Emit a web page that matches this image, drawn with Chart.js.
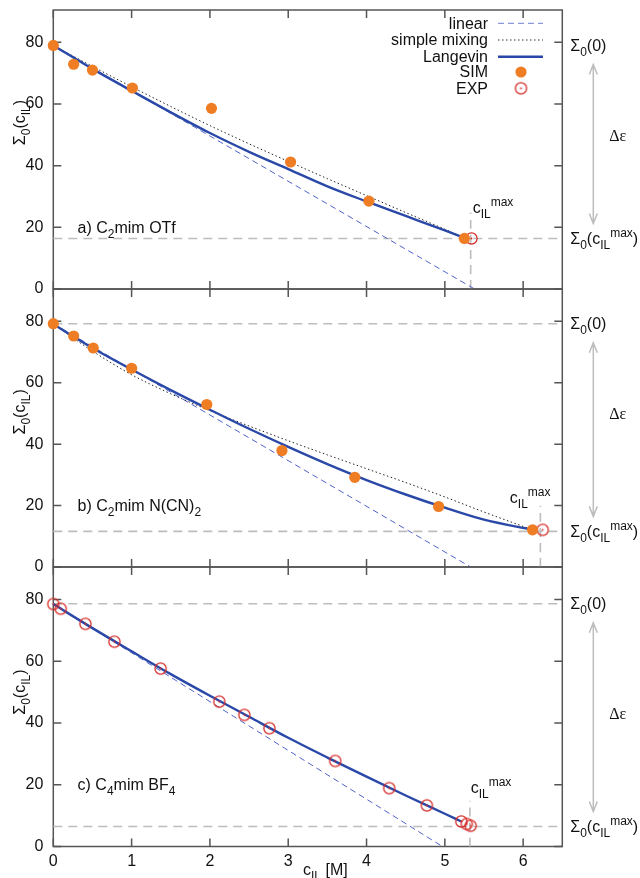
<!DOCTYPE html>
<html>
<head>
<meta charset="utf-8">
<script src="https://cdn.jsdelivr.net/npm/chart.js@4.4.1/dist/chart.umd.min.js"></script>
<style>
  html, body { margin: 0; padding: 0; background: #fff; }
  #wrap { position: relative; width: 640px; height: 878px; }
  #wrap canvas { position: absolute; left: 0; top: 0; }
</style>
</head>
<body>
<div id="wrap">
  <canvas id="panelA" width="640" height="878"></canvas>
  <canvas id="panelB" width="640" height="878"></canvas>
  <canvas id="panelC" width="640" height="878"></canvas>
</div>
<script>
// values
const xTicks = [0, 1, 2, 3, 4, 5, 6];
const yTicks = [0, 20, 40, 60, 80];

// a) C2mim OTf
const simAx = [0, 0.26, 0.5, 1.01, 2.02, 3.03, 4.03, 5.25];
const simAy = [79.0, 72.9, 71.0, 65.2, 58.6, 41.2, 28.5, 16.4];
const expAx = [5.34];
const expAy = [16.4];
const curveAx = [0, 0.5, 1, 1.5, 2, 2.5, 3, 3.5, 4, 4.5, 5, 5.25];
const langAy = [79, 71.4, 64.3, 57.3, 50.6, 44.5, 38.9, 33.3, 28.4, 23.7, 19.0, 16.6];
const mixAy = [79, 72.2, 65.6, 59.2, 53.0, 47.1, 41.4, 35.8, 30.3, 24.8, 19.4, 16.6];
const linAx = [0, 5.38];
const linAy = [79, 0];
const eps0A = 79, epsMaxA = 16.4, cMaxA = 5.33;

// b) C2mim N(CN)2
const simBx = [0, 0.26, 0.51, 1.0, 1.96, 2.92, 3.85, 4.92, 6.12];
const simBy = [79.2, 75.2, 71.3, 64.7, 52.9, 37.9, 29.2, 19.7, 12.1];
const expBx = [6.25];
const expBy = [12.1];
const curveBx = [0, 0.5, 1, 1.5, 2, 2.5, 3, 3.5, 4, 4.5, 5, 5.5, 6.12];
const langBy = [79, 71.3, 64.3, 57.6, 51.2, 45.0, 39.1, 33.5, 28.3, 23.6, 19.3, 15.4, 12.1];
const mixBy = [79, 70.3, 62.6, 56.4, 50.9, 45.9, 41.1, 36.5, 32.0, 27.5, 22.8, 17.9, 12.1];
const linBx = [0, 5.33];
const linBy = [79.2, 0];
const eps0B = 79.2, epsMaxB = 11.6, cMaxB = 6.22;

// c) C4mim BF4
const expCx = [0, 0.095, 0.41, 0.78, 1.37, 2.12, 2.44, 2.76, 3.60, 4.29, 4.77, 5.21, 5.28, 5.33];
const expCy = [78.5, 77.0, 72.1, 66.3, 57.6, 46.9, 42.6, 38.3, 27.7, 18.9, 13.3, 8.1, 7.3, 6.7];
const curveCx = [0, 0.5, 1, 1.5, 2, 2.5, 3, 3.5, 4, 4.5, 5, 5.21];
const langCy = [78.5, 70.7, 63.2, 55.8, 48.8, 42.0, 35.2, 28.8, 22.6, 16.5, 10.6, 8.1];
const linCx = [0, 4.97];
const linCy = [78.5, 0];
const eps0C = 78.6, epsMaxC = 6.5, cMaxC = 5.32;

const FONT = '"Liberation Sans", Helvetica, Arial, sans-serif';
const ORANGE = '#ee7d24';
const RED = '#d52c28';
const BLUE = '#2a48a8';
const LINBLUE = '#5062c8';
const GREY = '#bdbdbd';

function pts(xs, ys) {
  return xs.map((x, i) => ({ x: x, y: ys[i] }));
}

// open circle with a dot in the middle, used for EXP
const expMarker = document.createElement('canvas');
expMarker.width = 15;
expMarker.height = 15;
(function () {
  const c = expMarker.getContext('2d');
  c.strokeStyle = RED;
  c.lineWidth = 1.3;
  c.beginPath();
  c.arc(7.5, 7.5, 5.6, 0, Math.PI * 2);
  c.stroke();
  c.fillStyle = RED;
  c.beginPath();
  c.arc(7.5, 7.5, 0.9, 0, Math.PI * 2);
  c.fill();
})();

// text with sub/superscripts: parts = [[text, ''|'sub'|'sup'], ...]
function richText(ctx, parts, x, y, align, size) {
  size = size || 16;
  const small = Math.round(size * 0.75);
  let w = 0;
  parts.forEach(([t, k]) => {
    ctx.font = (k ? small : size) + 'px ' + FONT;
    w += ctx.measureText(t).width;
  });
  let cx = align === 'right' ? x - w : align === 'center' ? x - w / 2 : x;
  ctx.textAlign = 'left';
  ctx.textBaseline = 'alphabetic';
  parts.forEach(([t, k]) => {
    ctx.font = (k ? small : size) + 'px ' + FONT;
    const dy = k === 'sub' ? 5 : k === 'sup' ? -7 : 0;
    ctx.fillText(t, cx, y + dy);
    cx += ctx.measureText(t).width;
  });
}

function lineSet(data, color, width, dash) {
  return {
    data: data, showLine: true, borderColor: color, borderWidth: width,
    borderDash: dash || [], pointRadius: 0, pointHoverRadius: 0,
    cubicInterpolationMode: 'monotone', fill: false, clip: false
  };
}

function makePanel(id, p) {
  const datasets = [];
  if (p.sim) {
    datasets.push({ data: p.sim, pointRadius: 5.6, pointBackgroundColor: ORANGE,
      pointBorderWidth: 0, showLine: false, clip: false });
  }
  datasets.push({ data: p.exp, pointStyle: expMarker, pointRadius: 7,
    showLine: false, clip: false });
  datasets.push(lineSet(p.lang, BLUE, 2.4));
  if (p.mix) datasets.push(lineSet(p.mix, '#222', 1, [1.5, 2.5]));
  datasets.push(lineSet(p.lin, LINBLUE, 1, [6, 4]));
  // guide lines
  datasets.push(lineSet([{ x: 0, y: p.epsMax }, { x: 6.5, y: p.epsMax }], GREY, 1.6, [9, 6]));
  datasets.push(lineSet([{ x: p.cMax, y: 0 }, { x: p.cMax, y: p.epsMax + 8.3 }], GREY, 1.6, [9, 6]));
  if (p.showTopGuide) {
    datasets.push(lineSet([{ x: 0, y: p.eps0 }, { x: 6.5, y: p.eps0 }], GREY, 1.6, [9, 6]));
  }

  const decor = {
    id: 'decor' + id,
    beforeDatasetsDraw(chart) {
      const ctx = chart.ctx, a = chart.chartArea;
      const xs = chart.scales.x, ys = chart.scales.y;
      ctx.save();
      ctx.strokeStyle = '#555';
      ctx.lineWidth = 1.5;
      ctx.strokeRect(a.left, a.top, a.right - a.left, a.bottom - a.top);
      ctx.beginPath();
      xTicks.forEach(v => {
        const px = xs.getPixelForValue(v);
        ctx.moveTo(px, a.bottom); ctx.lineTo(px, a.bottom - 8);
        ctx.moveTo(px, a.top); ctx.lineTo(px, a.top + 8);
      });
      yTicks.forEach(v => {
        const py = ys.getPixelForValue(v);
        ctx.moveTo(a.left, py); ctx.lineTo(a.left + 8, py);
        ctx.moveTo(a.right, py); ctx.lineTo(a.right - 8, py);
      });
      ctx.stroke();
      ctx.restore();
    },
    afterDraw(chart) {
      const ctx = chart.ctx, a = chart.chartArea;
      const xs = chart.scales.x, ys = chart.scales.y;
      ctx.save();
      ctx.fillStyle = '#111';

      // y axis title
      ctx.save();
      ctx.translate(25, ys.getPixelForValue(p.titleAt));
      ctx.rotate(-Math.PI / 2);
      richText(ctx, [['\u03A3', ''], ['0', 'sub'], ['(c', ''], ['IL', 'sub'], [')', '']], 0, 0, 'center');
      ctx.restore();

      // panel name
      const ly = ys.getPixelForValue(20) + 5.5;
      richText(ctx, p.name, xs.getPixelForValue(0.31), ly, 'left');

      // right hand labels
      const y0 = ys.getPixelForValue(p.eps0);
      const ym = ys.getPixelForValue(p.epsMax);
      richText(ctx, [['\u03A3', ''], ['0', 'sub'], ['(0)', '']], a.right + 8, y0 + 5.5, 'left');
      richText(ctx, [['\u03A3', ''], ['0', 'sub'], ['(c', ''], ['IL', 'sub'], ['max', 'sup'], [')', '']],
        a.right + 8, ym + 5.5, 'left');

      // arrow for delta epsilon
      const ax = a.right + 31;
      const t = y0 + 19, b = ym - 15;
      ctx.strokeStyle = GREY;
      ctx.lineWidth = 1.5;
      ctx.beginPath();
      ctx.moveTo(ax, t); ctx.lineTo(ax, b);
      ctx.moveTo(ax - 4, t + 10); ctx.lineTo(ax, t); ctx.lineTo(ax + 4, t + 10);
      ctx.moveTo(ax - 4, b - 10); ctx.lineTo(ax, b); ctx.lineTo(ax + 4, b - 10);
      ctx.stroke();
      ctx.font = '16px "Liberation Serif", "DejaVu Serif", serif';
      ctx.textAlign = 'left';
      ctx.textBaseline = 'middle';
      ctx.fillText('\u0394\u03B5', a.right + 47, ys.getPixelForValue(p.deltaAt));

      // c_IL^max label
      richText(ctx, [['c', ''], ['IL', 'sub'], ['max', 'sup']],
        xs.getPixelForValue(p.cLabel[0]), ys.getPixelForValue(p.cLabel[1]), 'left');

      if (p.legend) {
        const rows = [23.3, 40, 56.7, 72, 88.3];
        const names = ['linear', 'simple mixing', 'Langevin', 'SIM', 'EXP'];
        ctx.font = '16px ' + FONT;
        ctx.textAlign = 'right';
        ctx.textBaseline = 'middle';
        ctx.fillStyle = '#111';
        names.forEach((n, i) => ctx.fillText(n, 488, rows[i] + 1));
        const seg = (y, color, w, dash) => {
          ctx.strokeStyle = color; ctx.lineWidth = w; ctx.setLineDash(dash);
          ctx.beginPath(); ctx.moveTo(498, y); ctx.lineTo(543, y); ctx.stroke();
        };
        seg(rows[0], '#8c98dc', 1.2, [6, 4]);
        seg(rows[1], '#333', 1, [1.5, 2.5]);
        seg(rows[2], BLUE, 2.4, []);
        ctx.setLineDash([]);
        ctx.fillStyle = ORANGE;
        ctx.beginPath(); ctx.arc(521, rows[3], 5.6, 0, Math.PI * 2); ctx.fill();
        ctx.drawImage(expMarker, 521 - 7.5, rows[4] - 7.5);
      }

      if (p.showX) {
        ctx.fillStyle = '#111';
        richText(ctx, [['c', ''], ['IL', 'sub'], [' [M]', '']], 303, 875, 'left');
      }
      ctx.restore();
    }
  };

  return new Chart(document.getElementById(id), {
    type: 'scatter',
    data: { datasets: datasets },
    options: {
      responsive: false,
      animation: false,
      events: [],
      layout: {
        padding: { left: 0, right: 77.7, top: p.top, bottom: p.showX ? 0 : 878 - p.bottom }
      },
      plugins: { legend: { display: false }, tooltip: { enabled: false } },
      scales: {
        x: {
          type: 'linear', min: 0, max: 6.5, display: p.showX,
          grid: { display: false, drawTicks: false }, border: { display: false },
          afterBuildTicks: s => { s.ticks = xTicks.map(v => ({ value: v })); },
          ticks: { font: { family: FONT, size: 16 }, color: '#111', padding: 5 },
          afterFit: s => {
            s.height = p.showX ? 878 - p.bottom : 0;
            s.paddingLeft = 0; s.paddingRight = 0;
          }
        },
        y: {
          type: 'linear', min: 0, max: 90.5,
          grid: { display: false, drawTicks: false }, border: { display: false },
          afterBuildTicks: s => { s.ticks = yTicks.map(v => ({ value: v })); },
          ticks: { font: { family: FONT, size: 16 }, color: '#111', padding: 10 },
          afterFit: s => {
            s.width = 53.3;
            s.paddingTop = 0; s.paddingBottom = 0;
          }
        }
      }
    },
    plugins: [decor]
  });
}

makePanel('panelA', {
  top: 10, bottom: 289, showX: false, legend: true, showTopGuide: false,
  sim: pts(simAx, simAy), exp: pts(expAx, expAy),
  lang: pts(curveAx, langAy), mix: pts(curveAx, mixAy), lin: pts(linAx, linAy),
  eps0: eps0A, epsMax: epsMaxA, cMax: cMaxA,
  titleAt: 54, deltaAt: 49.4, cLabel: [5.355, 24.7],
  name: [['a) C', ''], ['2', 'sub'], ['mim OTf', '']]
});

makePanel('panelB', {
  top: 289, bottom: 567, showX: false, legend: false, showTopGuide: true,
  sim: pts(simBx, simBy), exp: pts(expBx, expBy),
  lang: pts(curveBx, langBy), mix: pts(curveBx, mixBy), lin: pts(linBx, linBy),
  eps0: eps0B, epsMax: epsMaxB, cMax: cMaxB,
  titleAt: 50.5, deltaAt: 49.5, cLabel: [5.83, 20.8],
  name: [['b) C', ''], ['2', 'sub'], ['mim N(CN)', ''], ['2', 'sub']]
});

makePanel('panelC', {
  top: 567, bottom: 846.5, showX: true, legend: false, showTopGuide: true,
  sim: null, exp: pts(expCx, expCy),
  lang: pts(curveCx, langCy), mix: null, lin: pts(linCx, linCy),
  eps0: eps0C, epsMax: epsMaxC, cMax: cMaxC,
  titleAt: 50, deltaAt: 42.6, cLabel: [5.33, 17.3],
  name: [['c) C', ''], ['4', 'sub'], ['mim BF', ''], ['4', 'sub']]
});
</script>
</body>
</html>
